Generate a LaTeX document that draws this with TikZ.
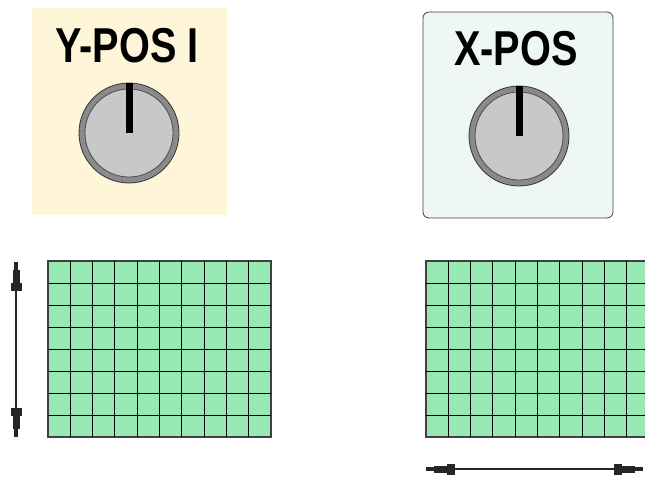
\documentclass[tikz,border=0pt]{standalone}
\usepackage{fontspec}
\setsansfont[FakeStretch=0.81]{Liberation Sans}
\usetikzlibrary{arrows.meta}

\definecolor{cream}{HTML}{FFF5D8}
\definecolor{icepanel}{HTML}{EEF7F6}
\definecolor{knobgray}{HTML}{C8C8C8}
\definecolor{ringgray}{HTML}{8A8A8A}
\definecolor{screengreen}{HTML}{98E8B4}

\begin{document}
\begin{tikzpicture}[x=1pt,y=-1pt]
    \tikzstyle{panel}      = [rectangle,inner sep=0pt]
    \tikzstyle{ypanel}     = [panel,fill=cream]
    \tikzstyle{xpanel}     = [panel,fill=icepanel,draw=black!75,line width=0.8pt,rounded corners=6pt]
    \tikzstyle{caption}    = [inner sep=0pt,anchor=base,font=\fontsize{49}{49}\selectfont\sffamily\bfseries]
    \tikzstyle{knob}       = [circle,inner sep=0pt,minimum size=100pt,fill=ringgray,draw=black!80,line width=0.8pt]
    \tikzstyle{knob face}  = [circle,inner sep=0pt,minimum size=88pt,fill=knobgray,draw=black!70,line width=0.8pt]
    \tikzstyle{pointer}    = [line width=7pt,black]
    \tikzstyle{screen}     = [rectangle,inner sep=0pt,fill=screengreen,draw=black!75,line width=1.2pt,
                              minimum width=223pt,minimum height=176pt]
    \tikzstyle{grid line}  = [black,line width=1pt]
    \tikzstyle{pos arrow}  = [{Square[length=8pt,width=4pt,sep=0pt]Square[length=13pt,width=7pt,sep=0pt]Square[length=8pt,width=11pt,sep=0pt]}-{Square[length=8pt,width=11pt,sep=0pt]Square[length=13pt,width=7pt,sep=0pt]Square[length=8pt,width=4pt,sep=0pt]},
                              line width=1.6pt,black!85]

    \useasboundingbox (0,0) rectangle (645,477);

    % control panels
    \node[ypanel,minimum width=195pt,minimum height=207pt] (ypanel) at (129.5,111.5) {};
    \node[xpanel,minimum width=190pt,minimum height=206pt] (xpanel) at (518,115) {};
    \node[caption] (ylabel) at (127,62) {Y-POS I};
    \node[caption] (xlabel) at (516,65) {X-POS};

    % knobs
    \node[knob]      (yknob) at (129,133) {};
    \node[knob face] (yface) at (yknob.center) {};
    \draw[pointer] (yknob.north) -- (yknob.center);
    \node[knob]      (xknob) at (519,136) {};
    \node[knob face] (xface) at (xknob.center) {};
    \draw[pointer] (xknob.north) -- (xknob.center);

    % screens
    \begin{scope}
        \clip (0,0) rectangle (645,477);
        \node[screen] (yscreen) at (159.5,349) {};
        \node[screen] (xscreen) at (537.5,349) {};
        \foreach \sx in {48,426} {
            \foreach \i in {1,...,9}
                \draw[grid line] (\sx+\i*22.3,261) -- (\sx+\i*22.3,437);
            \foreach \j in {1,...,7}
                \draw[grid line] (\sx,261+\j*22) -- (\sx+223,261+\j*22);
        }
    \end{scope}

    % position arrows
    \coordinate (ytop) at (16,262);
    \coordinate (ybot) at (16,437);
    \coordinate (xleft) at (426,469);
    \coordinate (xright) at (643,469);
    \draw[pos arrow] (ytop) -- (ybot);
    \draw[pos arrow] (xleft) -- (xright);
\end{tikzpicture}
\end{document}
